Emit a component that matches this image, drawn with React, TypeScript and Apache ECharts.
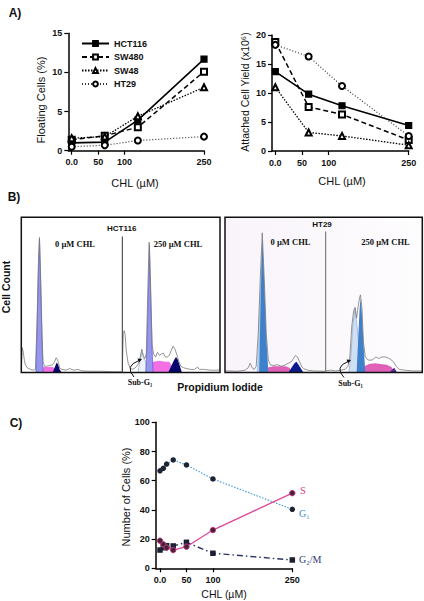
import React, { useEffect, useRef } from "react";
import * as echarts from "echarts";

// ---------- Panel A data ----------
const doseA = [0, 62.5, 125, 250];
const tickA = [0, 50, 100, 250];
const floatHCT116 = [1.0, 1.1, 3.9, 11.7];
const floatSW480 = [1.4, 1.9, 3.0, 10.1];
const floatSW48 = [1.6, 1.8, 4.4, 8.1];
const floatHT29 = [0.5, 0.7, 1.3, 1.8];
const attHCT116 = [13.7, 9.8, 7.8, 4.4];
const attSW480 = [18.8, 7.6, 6.3, 1.9];
const attSW48 = [11.0, 3.2, 2.6, 1.0];
const attHT29 = [18.3, 16.3, 11.2, 2.6];
const cellLines = ["HCT116", "SW480", "SW48", "HT29"];

// ---------- Panel B histogram data ([channel, count]) ----------
const hct0Outline = [[0,2],[1,16],[2,13],[3,8],[4,5],[6,3],[9,2],[12,1.5],[14,2],[15.5,30],[17,70],[18,87],[19,65],[20.5,25],[21.5,7],[23,4],[25,4],[28,4.5],[31,5],[33,7],[34.5,9.5],[36,8],[38,3],[40,2],[44,1.5],[48,2.5],[52,1.5],[56,2],[60,1],[70,0.8],[80,0.8],[90,0.5],[100,0.5]];
const hct0G1 = [[14.5,0],[16,40],[17,70],[18,86],[19,62],[20.5,22],[21.5,0]];
const hct0S = [[18,0],[20,2],[22,3.5],[26,3.5],[30,3.5],[33,3],[36,1.5],[38,0]];
const hct0G2 = [[31,0],[33,3],[35,6.5],[36.5,5],[38,2],[40,0]];

const hct250Outline = [[0,1],[1,25],[2,27],[3,24],[4,14],[6,6],[8,3],[10,2],[12,2.5],[14,3.5],[16,5],[18,9],[20,15],[21.5,11],[23,9],[24.5,12],[26,50],[27.5,84],[29,55],[30.5,18],[32,12],[34,10],[36,13],[38,11],[40,12],[42,12.5],[44,10],[46,10],[48,11],[50,14],[52,17],[54,15],[56,11],[58,7],[60,4],[63,3],[66,2.5],[70,2],[74,2],[77,3.5],[79,2],[84,2],[90,1.5],[100,1.5]];
const hct250Sub = [[16,0],[18,7],[20,13],[22,9],[24,7],[25,0]];
const hct250G1 = [[24,0],[25.5,20],[27,60],[27.8,82],[29,50],[30.5,15],[31.5,0]];
const hct250S = [[25,0],[27,6],[32,7],[38,7.5],[44,7],[48,7],[50,5],[52,0]];
const hct250G2 = [[47,0],[50,4],[53,8],[55,10],[57,8],[59,4],[61,0]];

const ht0Outline = [[0,1],[5,1],[10,0.8],[15,1],[20,1.5],[23,3],[25,6],[27,3],[29,2],[31,4],[33,25],[35,60],[37,90],[39,60],[41,25],[43,8],[45,5],[48,4.5],[52,5],[56,4],[60,5],[63,6],[66,7],[68,9],[70,11],[72,10],[74,7],[76,4],[78,2.5],[82,1.5],[88,1],[100,0.8]];
const ht0G1Light = [[31.5,0],[33,22],[35,58],[37,88],[39,58],[41,22],[43,0]];
const ht0G1 = [[34,0],[35.5,50],[37,88],[39,58],[41,22],[43,0]];
const ht0S = [[38,0],[42,3],[48,4],[55,4],[60,4],[64,3],[67,0]];
const ht0G2 = [[63,0],[66,3],[69,6],[71,7],[73,5],[76,2],[78,0]];

const ht250Outline = [[0,1],[5,1.5],[10,1],[15,1.5],[20,2],[23,4],[25,10],[27,30],[29,40],[30.5,42],[32,35],[33,40],[35,48],[36,50],[37.5,42],[39,20],[41,10],[44,8],[48,8],[52,10],[55,9],[58,10],[62,10],[66,9],[70,7],[73,4],[76,2],[82,1.5],[90,1],[100,1]];
const ht250Sub = [[24,0],[26,10],[28,30],[30.3,41],[32,32],[34,20],[35,0]];
const ht250G1 = [[32,0],[33.5,20],[35,40],[36,48],[37.5,38],[39.5,15],[41,0]];
const ht250S = [[37,0],[40,4],[45,5.5],[51,6],[57,5.5],[63,5],[68,3.5],[72,0]];
const ht250G2 = [[66,0],[69,2],[71,3],[73,1],[74,0]];

// ---------- Panel C data ----------
const doseC = [0, 6.25, 12.5, 25, 50, 100, 250];
const g1Pct = [66.8, 68.5, 71.4, 74.2, 70.8, 61.2, 40.4];
const sPct = [18.9, 16.4, 14.1, 12.5, 14.8, 26.2, 51.5];
const g2mPct = [12.5, 14.1, 15.5, 15.3, 17.8, 10.3, 5.7];

const FONT = "Liberation Sans";
const SERIF = "Liberation Serif";

const zip = (xs: number[], ys: number[]) => xs.map((x, i) => [x, ys[i]]);

function lineStyleFor(name: string) {
  if (name === "HCT116") return { type: "solid" as any, width: 1.6, color: "#000" };
  if (name === "SW480") return { type: [5, 3] as any, width: 1.5, color: "#000" };
  if (name === "SW48") return { type: [1.5, 1.5] as any, width: 1.3, color: "#000" };
  return { type: [1, 2] as any, width: 1.2, color: "#333" };
}
function symbolFor(name: string) {
  if (name === "HCT116") return "rect";
  if (name === "SW480") return "emptyRect";
  if (name === "SW48") return "emptyTriangle";
  return "emptyCircle";
}

function App() {
  const ref = useRef<HTMLDivElement>(null);
  useEffect(() => {
    if (!ref.current) return;
    const chart = echarts.init(ref.current, undefined, { renderer: "svg" });

    const axisLabelBold = { fontFamily: FONT, fontSize: 9, fontWeight: "bold" as any, color: "#111" };
    const baseAxisLine = { onZero: false, lineStyle: { color: "#000", width: 1.5 } };
    const baseTick = { inside: false, length: 4, lineStyle: { color: "#000", width: 1.2 } };

    const doseXAxis = (gridIndex: number, min: number) => ({
      type: "value",
      gridIndex,
      min,
      max: 250,
      axisLine: baseAxisLine,
      axisTick: { ...baseTick, customValues: tickA },
      axisLabel: {
        ...axisLabelBold,
        margin: 7,
        customValues: tickA,
        formatter: (v: number) => (v === 0 ? "0.0" : String(v)),
      },
      splitLine: { show: false },
    });
    const valYAxis = (gridIndex: number, max: number, interval: number) => ({
      type: "value",
      gridIndex,
      min: 0,
      max,
      interval,
      axisLine: { ...baseAxisLine, show: true },
      axisTick: { ...baseTick, show: true },
      axisLabel: { ...axisLabelBold, margin: 6 },
      splitLine: { show: false },
    });
    const hiddenAxis = (gridIndex: number) => ({
      type: "value",
      gridIndex,
      min: 0,
      max: 100,
      show: false,
      splitLine: { show: false },
    });

    const lineSeries = (name: string, data: number[], xi: number, yi: number) => ({
      type: "line",
      name,
      xAxisIndex: xi,
      yAxisIndex: yi,
      data: zip(doseA, data),
      symbol: symbolFor(name),
      symbolSize: 6,
      showSymbol: true,
      lineStyle: lineStyleFor(name),
      itemStyle: { color: "#000", borderColor: "#000", borderWidth: 1.2 },
      z: 5,
    });

    const area = (data: number[][], idx: number, color: string, edge?: string, z = 2) => ({
      type: "line",
      xAxisIndex: idx,
      yAxisIndex: idx,
      data,
      showSymbol: false,
      symbol: "none",
      smooth: false,
      lineStyle: { width: edge ? 0.7 : 0, color: edge || color },
      areaStyle: { color, opacity: 1 },
      z,
      silent: true,
    });
    const outline = (data: number[][], idx: number) => ({
      type: "line",
      xAxisIndex: idx,
      yAxisIndex: idx,
      data,
      showSymbol: false,
      symbol: "none",
      lineStyle: { width: 0.8, color: "#7a7a7a" },
      z: 6,
      silent: true,
    });

    const PI = "#f46ee4";
    const NAVY = "#05056e";
    const PERI = "#9696ee";
    const HTBLUE = "#3f80cc";
    const HTLIGHT = "#a9cbee";

    const txt = (x: number, y: number, text: string, opts: any = {}) => ({
      type: "text",
      x,
      y,
      rotation: opts.rotation || 0,
      z: 50,
      style: {
        text,
        fontFamily: opts.fontFamily || FONT,
        fontSize: opts.fontSize || 11,
        fontWeight: opts.fontWeight || "normal",
        fill: opts.fill || "#111",
        align: opts.align || "center",
        verticalAlign: "middle",
      },
    });

    const option: any = {
      animation: false,
      backgroundColor: "#fff",
      legend: {
        data: cellLines,
        orient: "vertical",
        left: 76,
        top: 34,
        itemWidth: 27,
        itemHeight: 6,
        itemGap: 4.5,
        textStyle: { fontFamily: FONT, fontSize: 9, fontWeight: "bold", color: "#111" },
      },
      grid: [
        { left: 68.3, top: 33.3, width: 135.7, height: 117.4 },
        { left: 272, top: 35, width: 136.7, height: 116 },
        { left: 21.3, top: 217.3, width: 101, height: 155.2 },
        { left: 122.3, top: 217.3, width: 97.7, height: 155.2 },
        { left: 225, top: 217.3, width: 100.7, height: 155.2 },
        { left: 325.7, top: 217.3, width: 96.6, height: 155.2 },
        { left: 155.7, top: 422.3, width: 136.6, height: 146 },
      ],
      xAxis: [
        doseXAxis(0, -6.4),
        doseXAxis(1, -6.2),
        hiddenAxis(2),
        hiddenAxis(3),
        hiddenAxis(4),
        hiddenAxis(5),
        doseXAxis(6, -8.1),
      ],
      yAxis: [
        valYAxis(0, 15, 5),
        valYAxis(1, 20, 5),
        hiddenAxis(2),
        hiddenAxis(3),
        hiddenAxis(4),
        hiddenAxis(5),
        valYAxis(6, 100, 20),
      ],
      series: [
        lineSeries("HCT116", floatHCT116, 0, 0),
        lineSeries("SW480", floatSW480, 0, 0),
        lineSeries("SW48", floatSW48, 0, 0),
        lineSeries("HT29", floatHT29, 0, 0),
        lineSeries("HCT116", attHCT116, 1, 1),
        lineSeries("SW480", attSW480, 1, 1),
        lineSeries("SW48", attSW48, 1, 1),
        lineSeries("HT29", attHT29, 1, 1),

        // HCT116 0 uM
        area(hct0S, 2, PI),
        area(hct0G2, 2, NAVY),
        area(hct0G1, 2, PERI, "#5a5ad0", 3),
        outline(hct0Outline, 2),
        // HCT116 250 uM
        area(hct250Sub, 3, "#eef2fc", "#9aa"),
        area(hct250S, 3, PI),
        area(hct250G2, 3, NAVY),
        area(hct250G1, 3, PERI, "#5a5ad0", 3),
        outline(hct250Outline, 3),
        // HT29 0 uM
        area(ht0S, 4, "#e060b8"),
        area(ht0G2, 4, "#0a1a8a"),
        area(ht0G1Light, 4, HTLIGHT, undefined, 3),
        area(ht0G1, 4, HTBLUE, undefined, 4),
        outline(ht0Outline, 4),
        // HT29 250 uM
        area(ht250Sub, 5, "#cfe0f4", "#8fa8c8"),
        area(ht250S, 5, "#e060b8"),
        area(ht250G2, 5, "#4a2a8a"),
        area(ht250G1, 5, HTBLUE, undefined, 3),
        outline(ht250Outline, 5),

        // Panel C
        {
          type: "line",
          name: "G1",
          xAxisIndex: 6,
          yAxisIndex: 6,
          data: zip(doseC, g1Pct),
          symbol: "circle",
          symbolSize: 5.5,
          lineStyle: { type: [1.5, 1.5], width: 1.2, color: "#4aa0dc" },
          itemStyle: { color: "#1c2333" },
          z: 5,
        },
        {
          type: "line",
          name: "S",
          xAxisIndex: 6,
          yAxisIndex: 6,
          data: zip(doseC, sPct),
          symbol: "circle",
          symbolSize: 5.5,
          lineStyle: { type: "solid", width: 1.3, color: "#e0449a" },
          itemStyle: { color: "#4a2038", borderColor: "#c03a80", borderWidth: 1 },
          z: 6,
        },
        {
          type: "line",
          name: "G2/M",
          xAxisIndex: 6,
          yAxisIndex: 6,
          data: zip(doseC, g2mPct),
          symbol: "rect",
          symbolSize: 5.5,
          lineStyle: { type: [6, 3, 1.5, 3], width: 1.4, color: "#2a3360" },
          itemStyle: { color: "#1a1f33" },
          z: 4,
        },
      ],
      graphic: [
        // Panel letters
        txt(15, 13, "A)", { fontSize: 12, fontWeight: "bold" }),
        txt(14, 197, "B)", { fontSize: 12, fontWeight: "bold" }),
        txt(16, 423, "C)", { fontSize: 12, fontWeight: "bold" }),

        // Panel A titles
        txt(41, 100, "Floating Cells (%)", { rotation: Math.PI / 2 }),
        txt(135, 183, "CHL (µM)"),
        txt(245, 92, "Attached Cell Yield (x10⁶)", { rotation: Math.PI / 2, fontSize: 10.5 }),
        txt(342, 181, "CHL (µM)"),

        // Panel B boxes
        {
          type: "rect",
          z: -10,
          shape: { x: 225, y: 217.3, width: 197.3, height: 155.2 },
          style: {
            fill: new echarts.graphic.LinearGradient(0, 0, 1, 0, [
              { offset: 0, color: "#f8f4fa" },
              { offset: 0.5, color: "#fbf8fc" },
              { offset: 1, color: "#fefdfe" },
            ]),
          },
        },
        {
          type: "rect",
          z: 40,
          shape: { x: 21.3, y: 217.3, width: 198.7, height: 155.2 },
          style: { fill: "none", stroke: "#111", lineWidth: 1.5 },
        },
        {
          type: "rect",
          z: 40,
          shape: { x: 225, y: 217.3, width: 197.3, height: 155.2 },
          style: { fill: "none", stroke: "#111", lineWidth: 1.5 },
        },
        {
          type: "line",
          z: 40,
          shape: { x1: 122.3, y1: 236.5, x2: 122.3, y2: 372.5 },
          style: { stroke: "#333", lineWidth: 1 },
        },
        {
          type: "line",
          z: 40,
          shape: { x1: 325.7, y1: 231.5, x2: 325.7, y2: 372.5 },
          style: { stroke: "#666", lineWidth: 1 },
        },
        txt(121.7, 228, "HCT116", { fontSize: 8, fontWeight: "bold" }),
        txt(75, 243.5, "0 µM CHL", { fontSize: 8.5, fontWeight: "bold", fontFamily: SERIF }),
        txt(178, 243.5, "250 µM CHL", { fontSize: 8.5, fontWeight: "bold", fontFamily: SERIF }),
        txt(322, 224.5, "HT29", { fontSize: 8, fontWeight: "bold" }),
        txt(290.5, 242, "0 µM CHL", { fontSize: 8.5, fontWeight: "bold", fontFamily: SERIF }),
        txt(385.5, 242, "250 µM CHL", { fontSize: 8.5, fontWeight: "bold", fontFamily: SERIF }),
        txt(6, 287, "Cell Count", { rotation: Math.PI / 2, fontSize: 10.5, fontWeight: "bold" }),
        txt(220, 386.5, "Propidium Iodide", { fontSize: 10.5, fontWeight: "bold" }),
        txt(140, 382, "Sub-G₁", { fontSize: 8, fontWeight: "bold", fontFamily: SERIF }),
        txt(350.5, 383, "Sub-G₁", { fontSize: 8, fontWeight: "bold", fontFamily: SERIF }),
        {
          type: "bezierCurve",
          z: 45,
          shape: { x1: 134, y1: 377, cpx1: 124, cpy1: 366, x2: 139, y2: 360.5 },
          style: { stroke: "#111", lineWidth: 1, fill: "none" },
        },
        {
          type: "polygon",
          z: 45,
          shape: { points: [[142, 359], [137.5, 358.5], [139.2, 362.6]] },
          style: { fill: "#111" },
        },
        {
          type: "bezierCurve",
          z: 45,
          shape: { x1: 344, y1: 377.5, cpx1: 334, cpy1: 367, x2: 348, y2: 361.5 },
          style: { stroke: "#111", lineWidth: 1, fill: "none" },
        },
        {
          type: "polygon",
          z: 45,
          shape: { points: [[351, 360], [346.5, 359.5], [348.2, 363.6]] },
          style: { fill: "#111" },
        },

        // Panel C titles and labels
        txt(126, 497, "Number of Cells (%)", { rotation: Math.PI / 2 }),
        txt(224, 594, "CHL (µM)", { fontSize: 10.5 }),
        txt(300, 490, "S", { fontSize: 10.5, fontFamily: SERIF, fill: "#d63d8f", align: "left" }),
        txt(299, 513, "G₁", { fontSize: 10, fontFamily: SERIF, fill: "#3d8fd0", align: "left" }),
        txt(299, 559.5, "G₂/M", { fontSize: 10, fontFamily: SERIF, fill: "#2a3a78", align: "left" }),
      ],
    };

    chart.setOption(option);
    return () => chart.dispose();
  }, []);

  return (
    <div
      ref={ref}
      style={{ position: "absolute", left: 0, top: 0, width: 424, height: 601 }}
    />
  );
}

export default App;
